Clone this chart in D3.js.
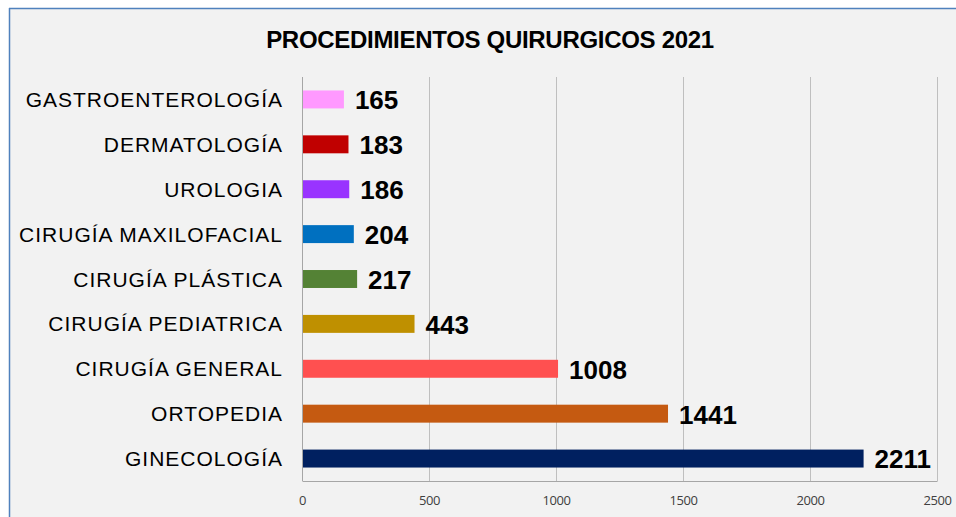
<!DOCTYPE html>
<html>
<head>
<meta charset="utf-8">
<script src="https://d3js.org/d3.v7.min.js"></script>
<style>
body { margin: 0; background: #fff; }
svg { display: block; }
</style>
</head>
<body>
<script>
// data (top to bottom as in the chart)
var categories = ["GASTROENTEROLOGÍA", "DERMATOLOGÍA", "UROLOGIA", "CIRUGÍA MAXILOFACIAL",
	"CIRUGÍA PLÁSTICA", "CIRUGÍA PEDIATRICA", "CIRUGÍA GENERAL", "ORTOPEDIA", "GINECOLOGÍA"];
var values = [165, 183, 186, 204, 217, 443, 1008, 1441, 2211];
var barColors = ["#ff99ff", "#c00000", "#9933ff", "#0070c0", "#548235",
	"#bf9000", "#ff5050", "#c55a11", "#002060"];
var tickValues = [0, 500, 1000, 1500, 2000, 2500];

var width = 956, height = 517;
var margin = { top: 77, right: 19, bottom: 36, left: 302 };
var plotW = width - margin.left - margin.right,
	plotH = height - margin.top - margin.bottom;

var svg = d3.select("body").append("svg")
	.attr("width", width)
	.attr("height", height);

// chart area background + border
svg.append("rect")
	.attr("x", 9).attr("y", 8)
	.attr("width", width - 9).attr("height", height - 8)
	.attr("fill", "#f2f2f2");
svg.append("line")
	.attr("x1", 9).attr("x2", width).attr("y1", 8.5).attr("y2", 8.5)
	.attr("stroke", "#4f81bd").attr("stroke-width", 1.5);
svg.append("line")
	.attr("x1", 9.5).attr("x2", 9.5).attr("y1", 8).attr("y2", height)
	.attr("stroke", "#4f81bd").attr("stroke-width", 1.5);

// title
svg.append("text")
	.attr("x", 490).attr("y", 48)
	.attr("text-anchor", "middle")
	.style("font-family", "'Liberation Sans', Arial, sans-serif")
	.style("font-weight", "bold")
	.style("font-size", "24px")
	.style("letter-spacing", "-0.3px")
	.attr("fill", "#000")
	.text("PROCEDIMIENTOS QUIRURGICOS 2021");

var g = svg.append("g")
	.attr("transform", "translate(" + margin.left + "," + margin.top + ")");

var x = d3.scaleLinear().domain([0, 2500]).range([0, plotW]);
var y = d3.scaleBand().domain(categories).range([0, plotH]).paddingInner(0.6).paddingOuter(0.3);

// gridlines
g.selectAll(".grid")
	.data(tickValues.slice(1))
	.enter().append("line")
	.attr("class", "grid")
	.attr("x1", function(d) { return Math.round(x(d)) + 0.5; })
	.attr("x2", function(d) { return Math.round(x(d)) + 0.5; })
	.attr("y1", 0).attr("y2", plotH)
	.attr("stroke", "#bfbfbf");

// x axis
var xAxis = g.append("g")
	.attr("transform", "translate(0," + plotH + ")")
	.call(d3.axisBottom(x).tickValues(tickValues).tickFormat(d3.format("d")).tickSize(0).tickPadding(15));
xAxis.select(".domain").attr("stroke", "#a6a6a6");
xAxis.selectAll("text")
	.style("font-family", "'Open Sans', sans-serif")
	.style("font-size", "13px")
	.style("letter-spacing", "-0.4px")
	.attr("fill", "#404040");

// y axis line
g.append("line")
	.attr("x1", 0.5).attr("x2", 0.5).attr("y1", 0).attr("y2", plotH)
	.attr("stroke", "#a6a6a6");

// category labels
g.selectAll(".cat")
	.data(categories)
	.enter().append("text")
	.attr("class", "cat")
	.attr("x", -19)
	.attr("y", function(d) { return y(d) + y.bandwidth() / 2; })
	.attr("dy", "0.36em")
	.attr("text-anchor", "end")
	.style("font-family", "'Liberation Sans', Arial, sans-serif")
	.style("font-size", "21px")
	.style("letter-spacing", "1px")
	.attr("fill", "#000")
	.text(function(d) { return d; });

// bars
g.selectAll(".bar")
	.data(values)
	.enter().append("rect")
	.attr("class", "bar")
	.attr("x", 1)
	.attr("y", function(d, i) { return y(categories[i]); })
	.attr("width", function(d) { return x(d) - 1; })
	.attr("height", y.bandwidth())
	.attr("fill", function(d, i) { return barColors[i]; });

// value labels
g.selectAll(".val")
	.data(values)
	.enter().append("text")
	.attr("class", "val")
	.attr("x", function(d) { return x(d) + 11; })
	.attr("y", function(d, i) { return y(categories[i]) + y.bandwidth() / 2; })
	.attr("dy", "0.38em")
	.style("font-family", "'Liberation Sans', Arial, sans-serif")
	.style("font-weight", "bold")
	.style("font-size", "26px")
	.attr("fill", "#000")
	.text(function(d) { return d; });
</script>
</body>
</html>
